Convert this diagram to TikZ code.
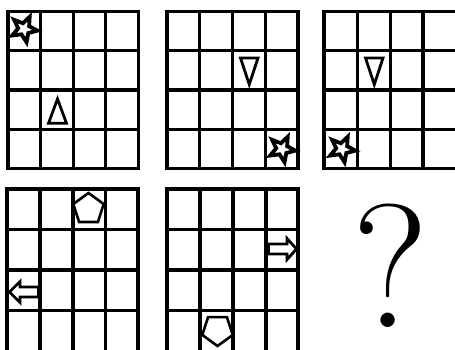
\documentclass[tikz,border=0pt]{standalone}
\usetikzlibrary{shapes.geometric}
\begin{document}
\begin{tikzpicture}[x=1pt,y=-1pt,
  gridline/.style={line width=3.2pt, line cap=rect, draw=black},
  shapeline/.style={line width=2.8pt, draw=black, line join=miter},
  starshape/.style={star, star points=5, star point ratio=2.3, minimum size=27pt, inner sep=0pt, draw=black, line width=3.8pt},
  pentashape/.style={regular polygon, regular polygon sides=5, minimum size=32pt, inner sep=0pt, draw=black, line width=2.6pt}]
\useasboundingbox (0,0) rectangle (455,349);
\clip (0,0) rectangle (455,349);
\fill[white] (0,0) rectangle (455,349);
% grid 1
\draw[gridline] (8,11.5) rectangle (138.5,168.5);
\foreach \x in {40.6,73.2,105.8} \draw[gridline] (\x,11.5) -- (\x,168.5);
\foreach \y in {50.5,90,129.5} \draw[gridline] (8,\y) -- (138.5,\y);
% grid 2
\draw[gridline] (167,11.5) rectangle (298,168.5);
\foreach \x in {199.75,232.5,265.25} \draw[gridline] (\x,11.5) -- (\x,168.5);
\foreach \y in {50.5,90,129.5} \draw[gridline] (167,\y) -- (298,\y);
% grid 3
\draw[gridline] (324,11.5) rectangle (457.5,168.5);
\foreach \x in {357.3,390.3,423} \draw[gridline] (\x,11.5) -- (\x,168.5);
\foreach \y in {50.5,90,129.5} \draw[gridline] (324,\y) -- (457.5,\y);
% grid 4
\draw[gridline] (7,189) rectangle (138,352);
\foreach \x in {40,73,105.5} \draw[gridline] (\x,189) -- (\x,352);
\foreach \y in {229.5,270,310.5} \draw[gridline] (7,\y) -- (138,\y);
% grid 5
\draw[gridline] (167,189) rectangle (298,352);
\foreach \x in {200,233,266} \draw[gridline] (\x,189) -- (\x,352);
\foreach \y in {229.5,270,310.5} \draw[gridline] (167,\y) -- (298,\y);
% stars
\node[starshape, rotate=-25] (star1) at (24,29) {};
\node[starshape, rotate=-25] (star2) at (282,149) {};
\node[starshape, rotate=-25] (star3) at (342,149) {};
% triangles
\draw[shapeline] (57.5,99) -- (66.5,123.3) -- (48.5,123.3) -- cycle;
\draw[shapeline] (240.5,58) -- (258,58) -- (249.25,84.5) -- cycle;
\draw[shapeline] (365.5,58) -- (383,58) -- (374.3,84.5) -- cycle;
% pentagons
\node[pentashape] (pent1) at (88.5,209) {};
\node[pentashape, rotate=180] (pent2) at (217.5,330) {};
% arrows
\draw[shapeline] (9.5,292) -- (20,281.5) -- (20,287) -- (38.5,287) -- (38.5,297) -- (20,297) -- (20,302.5) -- cycle;
\draw[shapeline] (296.5,249) -- (287,238.5) -- (287,244) -- (268.5,244) -- (268.5,254) -- (287,254) -- (287,259.5) -- cycle;
% question mark
\node[inner sep=0pt] (q) at (391,265.5) {\fontsize{176}{176}\selectfont ?};
\end{tikzpicture}
\end{document}
